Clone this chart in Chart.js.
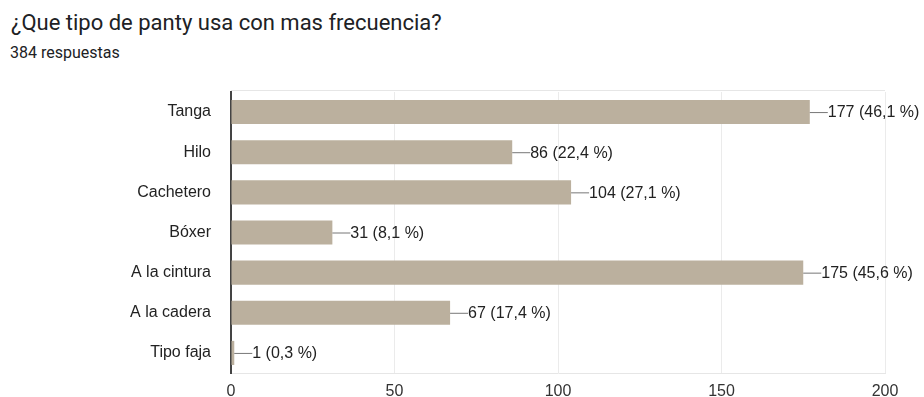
<!DOCTYPE html>
<html>
<head>
<meta charset="utf-8">
<script src="https://cdn.jsdelivr.net/npm/chart.js@4"></script>
<style>
  body { margin: 0; background: #fff; font-family: Roboto, Arial, sans-serif; }
  #wrap { position: relative; width: 924px; height: 397px; }
  #titulo { position: absolute; left: 11px; top: 10px; font-size: 22px; color: #202124; line-height: 26px; }
  #sub { position: absolute; left: 10px; top: 43px; font-size: 16px; color: #202124; line-height: 20px; }
  canvas { position: absolute; left: 0; top: 0; }
</style>
</head>
<body>
<div id="wrap">
  <div id="titulo">¿Que tipo de panty usa con mas frecuencia?</div>
  <div id="sub">384 respuestas</div>
  <canvas id="grafico" width="924" height="397"></canvas>
</div>
<script>
var categorias = ['Tanga', 'Hilo', 'Cachetero', 'Bóxer', 'A la cintura', 'A la cadera', 'Tipo faja'];
var respuestas = [177, 86, 104, 31, 175, 67, 1];
var porcentajes = ['46,1', '22,4', '27,1', '8,1', '45,6', '17,4', '0,3'];
var ticksX = [0, 50, 100, 150, 200];

var fuente = '"Liberation Sans", Arial, Helvetica, sans-serif';

// etiqueta con linea al final de cada barra y borde superior del area
var etiquetas = {
  id: 'etiquetas',
  afterDatasetsDraw: function(chart) {
    var ctx = chart.ctx;
    var area = chart.chartArea;
    ctx.save();
    ctx.strokeStyle = '#e6e6e6';
    ctx.lineWidth = 1;
    ctx.beginPath();
    ctx.moveTo(area.left, area.top - 1.5);
    ctx.lineTo(area.right, area.top - 1.5);
    ctx.stroke();

    var meta = chart.getDatasetMeta(0);
    ctx.font = '16px ' + fuente;
    ctx.fillStyle = '#222';
    ctx.textBaseline = 'middle';
    meta.data.forEach(function(barra, i) {
      var x = barra.x, y = barra.y;
      ctx.strokeStyle = '#777';
      ctx.beginPath();
      ctx.moveTo(x, y + 0.5);
      ctx.lineTo(x + 18, y + 0.5);
      ctx.stroke();
      ctx.fillText(respuestas[i] + ' (' + porcentajes[i] + ' %)', x + 18, y + 1);
    });
    ctx.restore();
  }
};

var ctx = document.getElementById('grafico').getContext('2d');
var chart = new Chart(ctx, {
  type: 'bar',
  data: {
    labels: categorias,
    datasets: [{
      data: respuestas,
      backgroundColor: '#bbb09e',
      barPercentage: 0.6,
      categoryPercentage: 1
    }]
  },
  options: {
    indexAxis: 'y',
    responsive: false,
    animation: false,
    layout: { padding: { top: 92, right: 39, left: 0, bottom: 0 } },
    plugins: { legend: { display: false }, tooltip: { enabled: false } },
    scales: {
      x: {
        min: 0,
        max: 200,
        afterBuildTicks: function(s) { s.ticks = ticksX.map(function(v) { return { value: v }; }); },
        grid: { color: '#ebebeb', drawTicks: false },
        border: { color: '#e6e6e6' },
        ticks: { color: '#333', font: { size: 16, family: fuente }, padding: 9 },
        afterFit: function(s) { s.height = 24; }
      },
      y: {
        grid: { display: false },
        border: { color: '#444', width: 2 },
        ticks: { color: '#222', font: { size: 16, family: fuente }, padding: 12 },
        afterFit: function(s) { s.width = 231; }
      }
    }
  },
  plugins: [etiquetas]
});
</script>
</body>
</html>
